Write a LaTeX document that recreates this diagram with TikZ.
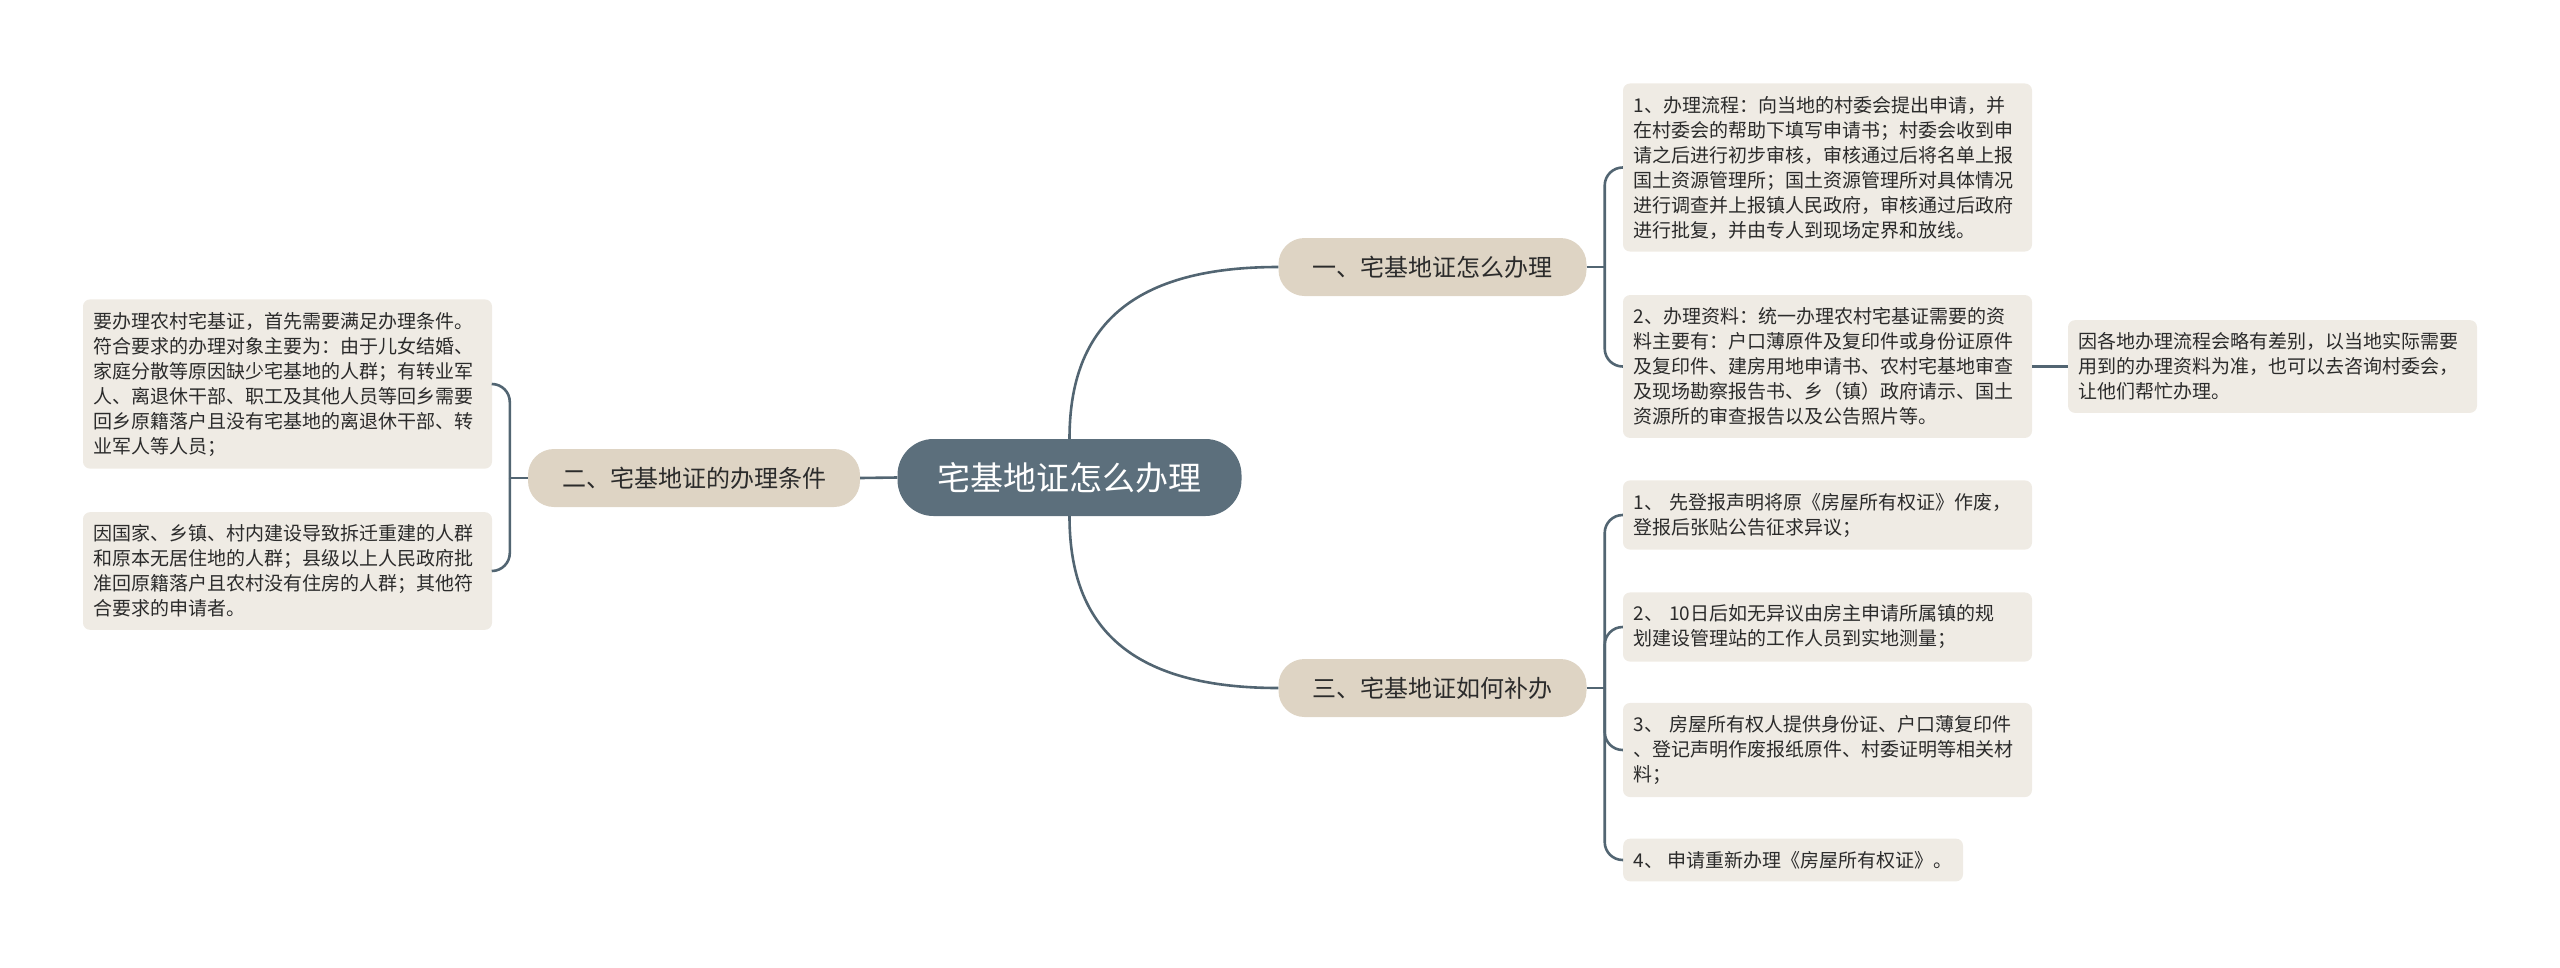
\documentclass[tikz,border=0pt]{standalone}
\usepackage{fontspec}
\setmainfont{Noto Sans CJK SC}
\definecolor{rootfill}{HTML}{5C6F7C}
\definecolor{topicfill}{HTML}{DED4C4}
\definecolor{leaffill}{HTML}{EFEBE4}
\definecolor{linkcol}{HTML}{526572}
\definecolor{txt}{HTML}{2B2B2B}
\begin{document}
\begin{tikzpicture}[x=1pt,y=-1pt,
  root/.style={fill=rootfill,text=white,rounded corners=36pt,minimum height=77pt,inner xsep=40pt,font=\fontsize{33}{40}\selectfont},
  topic/.style={fill=topicfill,text=txt,rounded corners=26pt,minimum height=58pt,inner xsep=34pt,font=\fontsize{24}{30}\selectfont},
  note/.style={fill=leaffill,text=txt,rounded corners=7pt,inner xsep=10.5pt,inner ysep=12.5pt,align=left,font=\fontsize{19}{25}\selectfont},
  leaf/.style={note,text width=388pt},
  link/.style={draw=linkcol,line width=2.6pt}]
     \useasboundingbox (0,0) rectangle (2560,967);
     \node[root] (c) at (1069.5,477.5) {宅基地证怎么办理};
     \node[topic] (b1) at (1432.5,267) {一、宅基地证怎么办理};
     \node[topic] (b2) at (694,478) {二、宅基地证的办理条件};
     \node[topic] (b3) at (1432.5,688) {三、宅基地证如何补办};

     \node[leaf] (l11) at (1827.5,167.5) {1、办理流程：向当地的村委会提出申请，并\\在村委会的帮助下填写申请书；村委会收到申\\请之后进行初步审核，审核通过后将名单上报\\国土资源管理所；国土资源管理所对具体情况\\进行调查并上报镇人民政府，审核通过后政府\\进行批复，并由专人到现场定界和放线。};
     \node[leaf] (l12) at (1827.5,366.5) {2、办理资料：统一办理农村宅基证需要的资\\料主要有：户口薄原件及复印件或身份证原件\\及复印件、建房用地申请书、农村宅基地审查\\及现场勘察报告书、乡（镇）政府请示、国土\\资源所的审查报告以及公告照片等。};
     \node[leaf] (l121) at (2272.5,366.5) {因各地办理流程会略有差别，以当地实际需要\\用到的办理资料为准，也可以去咨询村委会，\\让他们帮忙办理。};

     \node[leaf] (l21) at (287.5,384) {要办理农村宅基证，首先需要满足办理条件。\\符合要求的办理对象主要为：由于儿女结婚、\\家庭分散等原因缺少宅基地的人群；有转业军\\人、离退休干部、职工及其他人员等回乡需要\\回乡原籍落户且没有宅基地的离退休干部、转\\业军人等人员；};
     \node[leaf] (l22) at (287.5,571) {因国家、乡镇、村内建设导致拆迁重建的人群\\和原本无居住地的人群；县级以上人民政府批\\准回原籍落户且农村没有住房的人群；其他符\\合要求的申请者。};

     \node[leaf] (l31) at (1827.5,515) {1、 先登报声明将原《房屋所有权证》作废，\\登报后张贴公告征求异议；};
     \node[leaf] (l32) at (1827.5,627) {2、 10日后如无异议由房主申请所属镇的规\\划建设管理站的工作人员到实地测量；};
     \node[leaf] (l33) at (1827.5,750) {3、 房屋所有权人提供身份证、户口薄复印件\\、登记声明作废报纸原件、村委证明等相关材\\料；};
     \node[note,anchor=west] (l34) at (1623,860) {4、 申请重新办理《房屋所有权证》。};

     \draw[link] (c.north) .. controls +(0,-105) and +(-155,0) .. (b1.west);
     \draw[link] (c.south) .. controls +(0,105) and +(-155,0) .. (b3.west);
     \draw[link] (c.west) -- (b2.east);

     \draw[link] (b1.east) -- ++(18,0) coordinate (j1);
     \draw[link,rounded corners=18pt] (j1) |- (l11.west);
     \draw[link,rounded corners=18pt] (j1) |- (l12.west);
     \draw[link] (l12.east) -- (l121.west);

     \draw[link] (b2.west) -- ++(-18,0) coordinate (j2);
     \draw[link,rounded corners=18pt] (j2) |- (l21.east);
     \draw[link,rounded corners=18pt] (j2) |- (l22.east);

     \draw[link] (b3.east) -- ++(18,0) coordinate (j3);
     \draw[link,rounded corners=18pt] (j3) |- (l31.west);
     \draw[link,rounded corners=18pt] (j3) |- (l32.west);
     \draw[link,rounded corners=18pt] (j3) |- (l33.west);
     \draw[link,rounded corners=18pt] (j3) |- (l34.west);
\end{tikzpicture}
\end{document}
